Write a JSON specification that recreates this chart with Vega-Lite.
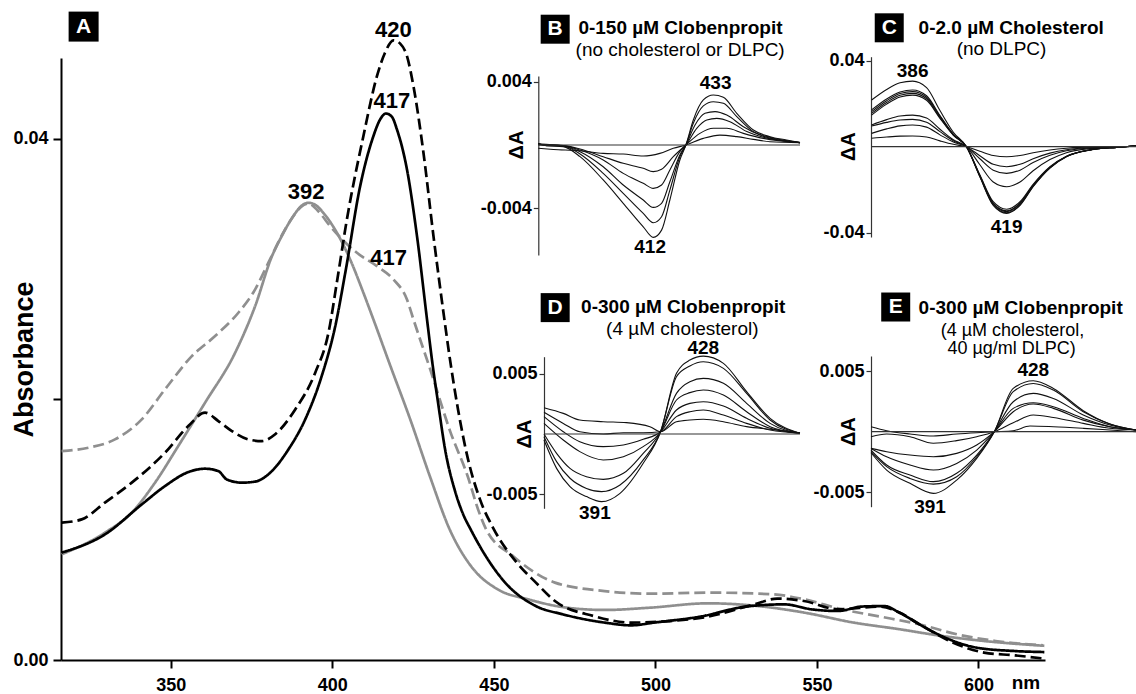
{
"$schema": "https://vega.github.io/schema/vega-lite/v6.json",
"width": 984, "height": 602,
"autosize": {"type": "none"},
"padding": {"left": 61, "top": 58, "right": 91, "bottom": 34},
"background": "white",
"config": {"view": {"stroke": null}, "font": "Liberation Sans",
  "axis": {"grid": false, "labelFont": "Liberation Sans", "labelFontWeight": "bold", "labelColor": "#000", "titleColor": "#000", "titleFont": "Liberation Sans", "labelFlush": false, "labelOverlap": false}},
"datasets": {
"main": [
{"s":"gd","nm":316.2,"v":0.01603},{"s":"gd","nm":324.5,"v":0.01629},{"s":"gd","nm":332.7,"v":0.01693},{"s":"gd","nm":341.0,"v":0.01847},{"s":"gd","nm":348.2,"v":0.02077},{"s":"gd","nm":356.5,"v":0.02332},{"s":"gd","nm":363.7,"v":0.02486},{"s":"gd","nm":370.9,"v":0.02665},{"s":"gd","nm":376.1,"v":0.02844},{"s":"gd","nm":380.2,"v":0.03049},{"s":"gd","nm":384.8,"v":0.03279},{"s":"gd","nm":387.9,"v":0.03406},{"s":"gd","nm":390.2,"v":0.03475},{"s":"gd","nm":392.6,"v":0.03504},{"s":"gd","nm":395.8,"v":0.0344},{"s":"gd","nm":399.3,"v":0.0333},{"s":"gd","nm":407.6,"v":0.03125},{"s":"gd","nm":413.8,"v":0.03023},{"s":"gd","nm":418.9,"v":0.02921},{"s":"gd","nm":423.1,"v":0.02767},{"s":"gd","nm":425.1,"v":0.02614},{"s":"gd","nm":430.3,"v":0.0223},{"s":"gd","nm":436.5,"v":0.01753},{"s":"gd","nm":442.0,"v":0.01402},{"s":"gd","nm":445.1,"v":0.01156},{"s":"gd","nm":447.6,"v":0.01003},{"s":"gd","nm":455.9,"v":0.00798},{"s":"gd","nm":468.9,"v":0.00594},{"s":"gd","nm":484.3,"v":0.00529},{"s":"gd","nm":498.6,"v":0.00509},{"s":"gd","nm":516.3,"v":0.00517},{"s":"gd","nm":536.5,"v":0.00504},{"s":"gd","nm":546.0,"v":0.00466},{"s":"gd","nm":557.8,"v":0.00389},{"s":"gd","nm":569.6,"v":0.00333},{"s":"gd","nm":581.6,"v":0.00274},{"s":"gd","nm":593.4,"v":0.00197},{"s":"gd","nm":605.3,"v":0.00146},{"s":"gd","nm":620.0,"v":0.00113},
{"s":"gs","nm":316.2,"v":0.00811},{"s":"gs","nm":329.6,"v":0.00977},{"s":"gs","nm":337.9,"v":0.01131},{"s":"gs","nm":345.1,"v":0.01361},{"s":"gs","nm":352.3,"v":0.01642},{"s":"gs","nm":360.6,"v":0.01975},{"s":"gs","nm":369.9,"v":0.02358},{"s":"gs","nm":376.1,"v":0.02716},{"s":"gs","nm":381.3,"v":0.03099},{"s":"gs","nm":383.8,"v":0.03228},{"s":"gs","nm":387.9,"v":0.03406},{"s":"gs","nm":390.2,"v":0.0348},{"s":"gs","nm":392.6,"v":0.03509},{"s":"gs","nm":394.9,"v":0.0349},{"s":"gs","nm":397.2,"v":0.03432},{"s":"gs","nm":401.4,"v":0.03279},{"s":"gs","nm":405.5,"v":0.03074},{"s":"gs","nm":409.6,"v":0.02819},{"s":"gs","nm":412.7,"v":0.02614},{"s":"gs","nm":417.9,"v":0.02261},{"s":"gs","nm":424.1,"v":0.01847},{"s":"gs","nm":430.3,"v":0.01402},{"s":"gs","nm":436.3,"v":0.01003},{"s":"gs","nm":442.9,"v":0.00721},{"s":"gs","nm":451.2,"v":0.00542},{"s":"gs","nm":460.6,"v":0.00466},{"s":"gs","nm":472.5,"v":0.00402},{"s":"gs","nm":484.4,"v":0.00384},{"s":"gs","nm":498.6,"v":0.00402},{"s":"gs","nm":516.3,"v":0.00435},{"s":"gs","nm":531.8,"v":0.00414},{"s":"gs","nm":546.0,"v":0.00364},{"s":"gs","nm":561.4,"v":0.00287},{"s":"gs","nm":575.6,"v":0.00236},{"s":"gs","nm":587.5,"v":0.00189},{"s":"gs","nm":601.7,"v":0.00146},{"s":"gs","nm":620.4,"v":0.00109},
{"s":"bd","nm":316.2,"v":0.01054},{"s":"bd","nm":322.4,"v":0.01079},{"s":"bd","nm":329.6,"v":0.01208},{"s":"bd","nm":337.9,"v":0.01361},{"s":"bd","nm":348.2,"v":0.01591},{"s":"bd","nm":355.4,"v":0.01795},{"s":"bd","nm":360.6,"v":0.01898},{"s":"bd","nm":364.7,"v":0.01834},{"s":"bd","nm":368.9,"v":0.01757},{"s":"bd","nm":374.0,"v":0.01693},{"s":"bd","nm":378.2,"v":0.0168},{"s":"bd","nm":382.3,"v":0.01732},{"s":"bd","nm":388.5,"v":0.01923},{"s":"bd","nm":394.7,"v":0.02205},{"s":"bd","nm":398.8,"v":0.02512},{"s":"bd","nm":401.6,"v":0.0293},{"s":"bd","nm":404.5,"v":0.03381},{"s":"bd","nm":409.6,"v":0.0402},{"s":"bd","nm":413.8,"v":0.0448},{"s":"bd","nm":416.3,"v":0.0466},{"s":"bd","nm":418.9,"v":0.04756},{"s":"bd","nm":421.0,"v":0.0473},{"s":"bd","nm":423.1,"v":0.04634},{"s":"bd","nm":425.1,"v":0.04404},{"s":"bd","nm":428.2,"v":0.03893},{"s":"bd","nm":431.3,"v":0.03253},{"s":"bd","nm":434.4,"v":0.02665},{"s":"bd","nm":436.5,"v":0.02292},{"s":"bd","nm":438.9,"v":0.01923},{"s":"bd","nm":442.0,"v":0.0154},{"s":"bd","nm":445.7,"v":0.01233},{"s":"bd","nm":450.0,"v":0.01003},{"s":"bd","nm":457.1,"v":0.00747},{"s":"bd","nm":463.0,"v":0.00594},{"s":"bd","nm":468.9,"v":0.00453},{"s":"bd","nm":480.8,"v":0.00338},{"s":"bd","nm":492.7,"v":0.00287},{"s":"bd","nm":504.5,"v":0.00299},{"s":"bd","nm":516.3,"v":0.00333},{"s":"bd","nm":530.6,"v":0.00427},{"s":"bd","nm":537.7,"v":0.00471},{"s":"bd","nm":546.0,"v":0.00453},{"s":"bd","nm":556.6,"v":0.00389},{"s":"bd","nm":569.6,"v":0.0041},{"s":"bd","nm":575.5,"v":0.00364},{"s":"bd","nm":582.6,"v":0.00261},{"s":"bd","nm":592.2,"v":0.00133},{"s":"bd","nm":601.7,"v":0.00057},{"s":"bd","nm":611.1,"v":0.00036},{"s":"bd","nm":619.5,"v":0.00013},
{"s":"bs","nm":316.2,"v":0.00824},{"s":"bs","nm":329.6,"v":0.00964},{"s":"bs","nm":341.0,"v":0.01194},{"s":"bs","nm":348.2,"v":0.01335},{"s":"bs","nm":355.4,"v":0.01442},{"s":"bs","nm":360.6,"v":0.01468},{"s":"bs","nm":364.7,"v":0.0145},{"s":"bs","nm":367.3,"v":0.01386},{"s":"bs","nm":372.0,"v":0.01361},{"s":"bs","nm":376.1,"v":0.01369},{"s":"bs","nm":380.2,"v":0.01425},{"s":"bs","nm":386.4,"v":0.01616},{"s":"bs","nm":391.6,"v":0.01847},{"s":"bs","nm":396.7,"v":0.02179},{"s":"bs","nm":400.9,"v":0.02562},{"s":"bs","nm":404.2,"v":0.03},{"s":"bs","nm":408.6,"v":0.03636},{"s":"bs","nm":412.7,"v":0.0402},{"s":"bs","nm":414.6,"v":0.0414},{"s":"bs","nm":416.6,"v":0.04194},{"s":"bs","nm":418.4,"v":0.0417},{"s":"bs","nm":420.0,"v":0.04071},{"s":"bs","nm":423.1,"v":0.03764},{"s":"bs","nm":426.2,"v":0.03253},{"s":"bs","nm":429.3,"v":0.02614},{"s":"bs","nm":430.9,"v":0.02291},{"s":"bs","nm":432.8,"v":0.01961},{"s":"bs","nm":434.9,"v":0.01616},{"s":"bs","nm":438.0,"v":0.01294},{"s":"bs","nm":440.5,"v":0.01118},{"s":"bs","nm":442.8,"v":0.01003},{"s":"bs","nm":448.8,"v":0.00747},{"s":"bs","nm":453.5,"v":0.00594},{"s":"bs","nm":463.0,"v":0.00414},{"s":"bs","nm":471.3,"v":0.00351},{"s":"bs","nm":484.3,"v":0.00287},{"s":"bs","nm":492.5,"v":0.00266},{"s":"bs","nm":499.6,"v":0.00287},{"s":"bs","nm":513.9,"v":0.00333},{"s":"bs","nm":528.1,"v":0.0041},{"s":"bs","nm":539.9,"v":0.00427},{"s":"bs","nm":548.3,"v":0.00389},{"s":"bs","nm":556.6,"v":0.00376},{"s":"bs","nm":563.8,"v":0.0041},{"s":"bs","nm":570.9,"v":0.00414},{"s":"bs","nm":575.5,"v":0.00364},{"s":"bs","nm":582.6,"v":0.00261},{"s":"bs","nm":591.0,"v":0.00158},{"s":"bs","nm":599.4,"v":0.00095},{"s":"bs","nm":611.1,"v":0.00069},{"s":"bs","nm":620.4,"v":0.00061}
],
"mainlab": [
{"k":"box","t":"A","nm":323.0,"v":0.04861},
{"k":"peak","t":"420","nm":418.9,"v":0.04838},
{"k":"peak","t":"417","nm":418.4,"v":0.04289},
{"k":"peak","t":"392","nm":391.9,"v":0.0359},
{"k":"peak","t":"417","nm":417.4,"v":0.03087},
{"k":"unit","t":"nm","nm":614.7,"v":-0.00179}
],
"B": [
{"c":"6","nm":371.9,"v":0.0001},{"c":"6","nm":374.8,"v":-0.00004},{"c":"6","nm":380.6,"v":-0.0001},{"c":"6","nm":386.5,"v":-0.00074},{"c":"6","nm":394.6,"v":-0.00222},{"c":"6","nm":401.6,"v":-0.0037},{"c":"6","nm":408.6,"v":-0.00519},{"c":"6","nm":412.1,"v":-0.00586},{"c":"6","nm":415.0,"v":-0.0054},{"c":"6","nm":417.9,"v":-0.00349},{"c":"6","nm":421.4,"v":-0.00095},{"c":"6","nm":423.5,"v":0},{"c":"6","nm":426.1,"v":0.00159},{"c":"6","nm":429.6,"v":0.00286},{"c":"6","nm":433.1,"v":0.00317},{"c":"6","nm":436.6,"v":0.00303},{"c":"6","nm":441.3,"v":0.00201},{"c":"6","nm":447.1,"v":0.00095},{"c":"6","nm":452.9,"v":0.00053},{"c":"6","nm":458.7,"v":0.00032},{"c":"6","nm":463.4,"v":0.00015},
{"c":"5","nm":371.9,"v":0.0001},{"c":"5","nm":374.8,"v":-0.00004},{"c":"5","nm":380.6,"v":-0.00006},{"c":"5","nm":386.5,"v":-0.00057},{"c":"5","nm":394.6,"v":-0.0018},{"c":"5","nm":401.6,"v":-0.00307},{"c":"5","nm":408.6,"v":-0.00434},{"c":"5","nm":412.1,"v":-0.00493},{"c":"5","nm":415.0,"v":-0.00455},{"c":"5","nm":417.9,"v":-0.00286},{"c":"5","nm":421.4,"v":-0.00074},{"c":"5","nm":423.5,"v":0},{"c":"5","nm":426.1,"v":0.00138},{"c":"5","nm":429.6,"v":0.00248},{"c":"5","nm":433.1,"v":0.00275},{"c":"5","nm":436.6,"v":0.00265},{"c":"5","nm":441.3,"v":0.0018},{"c":"5","nm":447.1,"v":0.00085},{"c":"5","nm":452.9,"v":0.00049},{"c":"5","nm":463.4,"v":0.00015},
{"c":"4","nm":371.9,"v":0.00006},{"c":"4","nm":380.6,"v":-0.00006},{"c":"4","nm":386.5,"v":-0.00042},{"c":"4","nm":394.6,"v":-0.00138},{"c":"4","nm":401.6,"v":-0.00254},{"c":"4","nm":408.6,"v":-0.00349},{"c":"4","nm":412.1,"v":-0.00396},{"c":"4","nm":415.0,"v":-0.0037},{"c":"4","nm":417.9,"v":-0.00233},{"c":"4","nm":421.4,"v":-0.00063},{"c":"4","nm":423.5,"v":0},{"c":"4","nm":426.7,"v":0.00127},{"c":"4","nm":430.2,"v":0.00201},{"c":"4","nm":433.7,"v":0.00212},{"c":"4","nm":437.8,"v":0.0019},{"c":"4","nm":443.6,"v":0.00116},{"c":"4","nm":449.4,"v":0.00063},{"c":"4","nm":463.4,"v":0.00015},
{"c":"3","nm":371.9,"v":0.00004},{"c":"3","nm":380.6,"v":-0.00004},{"c":"3","nm":386.5,"v":-0.00032},{"c":"3","nm":394.6,"v":-0.00095},{"c":"3","nm":401.6,"v":-0.0018},{"c":"3","nm":408.6,"v":-0.00243},{"c":"3","nm":412.1,"v":-0.00275},{"c":"3","nm":415.0,"v":-0.00254},{"c":"3","nm":417.9,"v":-0.00159},{"c":"3","nm":421.4,"v":-0.00042},{"c":"3","nm":423.5,"v":0},{"c":"3","nm":427.3,"v":0.00106},{"c":"3","nm":430.8,"v":0.00159},{"c":"3","nm":434.3,"v":0.00169},{"c":"3","nm":438.9,"v":0.00148},{"c":"3","nm":444.8,"v":0.00085},{"c":"3","nm":450.6,"v":0.00049},{"c":"3","nm":463.4,"v":0.00015},
{"c":"2","nm":371.9,"v":0},{"c":"2","nm":380.6,"v":-0.00004},{"c":"2","nm":386.5,"v":-0.00025},{"c":"2","nm":394.6,"v":-0.00074},{"c":"2","nm":401.6,"v":-0.00116},{"c":"2","nm":408.6,"v":-0.00148},{"c":"2","nm":412.1,"v":-0.00169},{"c":"2","nm":415.0,"v":-0.00154},{"c":"2","nm":419.1,"v":-0.00074},{"c":"2","nm":423.5,"v":0},{"c":"2","nm":428.4,"v":0.00074},{"c":"2","nm":433.1,"v":0.00106},{"c":"2","nm":437.8,"v":0.00106},{"c":"2","nm":443.6,"v":0.00074},{"c":"2","nm":450.6,"v":0.00042},{"c":"2","nm":463.4,"v":0.00015},
{"c":"1","nm":371.9,"v":-0.00021},{"c":"1","nm":377.2,"v":-0.00028},{"c":"1","nm":386.5,"v":-0.00036},{"c":"1","nm":394.6,"v":-0.00053},{"c":"1","nm":401.6,"v":-0.00057},{"c":"1","nm":408.6,"v":-0.0007},{"c":"1","nm":414.4,"v":-0.00053},{"c":"1","nm":419.1,"v":-0.00021},{"c":"1","nm":423.5,"v":0},{"c":"1","nm":429.6,"v":0.00042},{"c":"1","nm":435.4,"v":0.00063},{"c":"1","nm":441.3,"v":0.00053},{"c":"1","nm":447.1,"v":0.00036},{"c":"1","nm":452.9,"v":0.00021},{"c":"1","nm":463.4,"v":0.00015}
],
"Blab": [
{"k":"box","t":"B","nm":377.8,"v":0.00735},
{"k":"b","t":"0-150 µM Clobenpropit","nm":421.6,"v":0.00741},
{"k":"n","t":"(no cholesterol or DLPC)","nm":421.5,"v":0.00603},
{"k":"b","t":"433","nm":433.9,"v":0.00392},
{"k":"b","t":"412","nm":411.0,"v":-0.00646},
{"k":"d","t":"ΔA","nm":364.3,"v":0}
],
"C": [
{"c":"9","nm":371.6,"v":0.0217},{"c":"9","nm":376.9,"v":0.0266},{"c":"9","nm":381.6,"v":0.0297},{"c":"9","nm":386.0,"v":0.0305},{"c":"9","nm":390.9,"v":0.0275},{"c":"9","nm":395.6,"v":0.0168},{"c":"9","nm":400.3,"v":0.0067},{"c":"9","nm":404.9,"v":0},{"c":"9","nm":409.6,"v":-0.014},{"c":"9","nm":414.3,"v":-0.0273},{"c":"9","nm":419.0,"v":-0.031},{"c":"9","nm":423.7,"v":-0.0273},{"c":"9","nm":428.3,"v":-0.0186},{"c":"9","nm":434.2,"v":-0.0099},{"c":"9","nm":440.0,"v":-0.0047},{"c":"9","nm":448.2,"v":-0.0016},{"c":"9","nm":457.6,"v":-0.0003},{"c":"9","nm":464.4,"v":0.0003},
{"c":"8","nm":371.6,"v":0.0171},{"c":"8","nm":376.9,"v":0.0222},{"c":"8","nm":381.6,"v":0.0254},{"c":"8","nm":386.0,"v":0.0264},{"c":"8","nm":390.9,"v":0.0237},{"c":"8","nm":395.6,"v":0.0145},{"c":"8","nm":400.3,"v":0.0058},{"c":"8","nm":404.9,"v":0},{"c":"8","nm":409.6,"v":-0.0138},{"c":"8","nm":414.3,"v":-0.027},{"c":"8","nm":419.0,"v":-0.0307},{"c":"8","nm":423.7,"v":-0.027},{"c":"8","nm":428.3,"v":-0.0184},{"c":"8","nm":434.2,"v":-0.0098},{"c":"8","nm":440.0,"v":-0.0046},{"c":"8","nm":448.2,"v":-0.0015},{"c":"8","nm":457.6,"v":-0.0003},{"c":"8","nm":464.4,"v":0.0003},
{"c":"7","nm":371.6,"v":0.0163},{"c":"7","nm":376.9,"v":0.0214},{"c":"7","nm":381.6,"v":0.0247},{"c":"7","nm":386.0,"v":0.0256},{"c":"7","nm":390.9,"v":0.023},{"c":"7","nm":395.6,"v":0.0141},{"c":"7","nm":400.3,"v":0.0056},{"c":"7","nm":404.9,"v":0},{"c":"7","nm":409.6,"v":-0.0136},{"c":"7","nm":414.3,"v":-0.0265},{"c":"7","nm":419.0,"v":-0.0302},{"c":"7","nm":423.7,"v":-0.0265},{"c":"7","nm":428.3,"v":-0.0181},{"c":"7","nm":434.2,"v":-0.0097},{"c":"7","nm":440.0,"v":-0.0045},{"c":"7","nm":448.2,"v":-0.0015},{"c":"7","nm":457.6,"v":-0.0003},{"c":"7","nm":464.4,"v":0.0003},
{"c":"6","nm":371.6,"v":0.0155},{"c":"6","nm":376.9,"v":0.0206},{"c":"6","nm":381.6,"v":0.0239},{"c":"6","nm":386.0,"v":0.0248},{"c":"6","nm":390.9,"v":0.0223},{"c":"6","nm":395.6,"v":0.0136},{"c":"6","nm":400.3,"v":0.0055},{"c":"6","nm":404.9,"v":0},{"c":"6","nm":409.6,"v":-0.0134},{"c":"6","nm":414.3,"v":-0.0262},{"c":"6","nm":419.0,"v":-0.0298},{"c":"6","nm":423.7,"v":-0.0262},{"c":"6","nm":428.3,"v":-0.0179},{"c":"6","nm":434.2,"v":-0.0095},{"c":"6","nm":440.0,"v":-0.0045},{"c":"6","nm":448.2,"v":-0.0015},{"c":"6","nm":457.6,"v":-0.0003},{"c":"6","nm":464.4,"v":0.0003},
{"c":"5","nm":371.6,"v":0.0147},{"c":"5","nm":376.9,"v":0.0198},{"c":"5","nm":381.6,"v":0.0231},{"c":"5","nm":386.0,"v":0.024},{"c":"5","nm":390.9,"v":0.0216},{"c":"5","nm":395.6,"v":0.0132},{"c":"5","nm":400.3,"v":0.0053},{"c":"5","nm":404.9,"v":0},{"c":"5","nm":409.6,"v":-0.0131},{"c":"5","nm":414.3,"v":-0.0256},{"c":"5","nm":419.0,"v":-0.0291},{"c":"5","nm":423.7,"v":-0.0256},{"c":"5","nm":428.3,"v":-0.0175},{"c":"5","nm":434.2,"v":-0.0093},{"c":"5","nm":440.0,"v":-0.0044},{"c":"5","nm":448.2,"v":-0.0015},{"c":"5","nm":457.6,"v":-0.0003},{"c":"5","nm":464.4,"v":0.0003},
{"c":"4","nm":371.6,"v":0.0101},{"c":"4","nm":376.9,"v":0.0126},{"c":"4","nm":381.6,"v":0.0143},{"c":"4","nm":386.0,"v":0.0147},{"c":"4","nm":390.9,"v":0.0133},{"c":"4","nm":395.6,"v":0.0081},{"c":"4","nm":400.3,"v":0.0032},{"c":"4","nm":404.9,"v":0},{"c":"4","nm":409.6,"v":-0.0084},{"c":"4","nm":414.3,"v":-0.0164},{"c":"4","nm":419.0,"v":-0.0186},{"c":"4","nm":423.7,"v":-0.0164},{"c":"4","nm":428.3,"v":-0.0112},{"c":"4","nm":434.2,"v":-0.006},{"c":"4","nm":440.0,"v":-0.0028},{"c":"4","nm":448.2,"v":-0.0009},{"c":"4","nm":457.6,"v":-0.0003},{"c":"4","nm":464.4,"v":0.0003},
{"c":"3","nm":371.6,"v":0.0096},{"c":"3","nm":376.9,"v":0.0113},{"c":"3","nm":381.6,"v":0.0124},{"c":"3","nm":386.0,"v":0.0127},{"c":"3","nm":390.9,"v":0.0114},{"c":"3","nm":395.6,"v":0.007},{"c":"3","nm":400.3,"v":0.0028},{"c":"3","nm":404.9,"v":0},{"c":"3","nm":409.6,"v":-0.0056},{"c":"3","nm":414.3,"v":-0.0109},{"c":"3","nm":419.0,"v":-0.0124},{"c":"3","nm":423.7,"v":-0.0109},{"c":"3","nm":428.3,"v":-0.0074},{"c":"3","nm":434.2,"v":-0.004},{"c":"3","nm":440.0,"v":-0.0019},{"c":"3","nm":448.2,"v":-0.0006},{"c":"3","nm":457.6,"v":-0.0003},{"c":"3","nm":464.4,"v":0.0003},
{"c":"2","nm":371.6,"v":0.0062},{"c":"2","nm":376.9,"v":0.0083},{"c":"2","nm":381.6,"v":0.0097},{"c":"2","nm":386.0,"v":0.0101},{"c":"2","nm":390.9,"v":0.0091},{"c":"2","nm":395.6,"v":0.0055},{"c":"2","nm":400.3,"v":0.0022},{"c":"2","nm":404.9,"v":0},{"c":"2","nm":409.6,"v":-0.0042},{"c":"2","nm":414.3,"v":-0.0082},{"c":"2","nm":419.0,"v":-0.0093},{"c":"2","nm":423.7,"v":-0.0082},{"c":"2","nm":428.3,"v":-0.0056},{"c":"2","nm":434.2,"v":-0.003},{"c":"2","nm":440.0,"v":-0.0014},{"c":"2","nm":448.2,"v":-0.0005},{"c":"2","nm":457.6,"v":-0.0003},{"c":"2","nm":464.4,"v":0.0003},
{"c":"1","nm":371.6,"v":0.0039},{"c":"1","nm":376.9,"v":0.0045},{"c":"1","nm":381.6,"v":0.0049},{"c":"1","nm":386.0,"v":0.005},{"c":"1","nm":390.9,"v":0.0045},{"c":"1","nm":395.6,"v":0.0027},{"c":"1","nm":400.3,"v":0.0011},{"c":"1","nm":404.9,"v":0},{"c":"1","nm":409.6,"v":-0.0021},{"c":"1","nm":414.3,"v":-0.0041},{"c":"1","nm":419.0,"v":-0.0047},{"c":"1","nm":423.7,"v":-0.0041},{"c":"1","nm":428.3,"v":-0.0028},{"c":"1","nm":434.2,"v":-0.0015},{"c":"1","nm":440.0,"v":-0.0007},{"c":"1","nm":448.2,"v":-0.0002},{"c":"1","nm":457.6,"v":-0.0002},{"c":"1","nm":464.4,"v":0.0003}
],
"Clab": [
{"k":"box","t":"C","nm":377.8,"v":0.0553},
{"k":"b","t":"0-2.0 µM Cholesterol","nm":420.6,"v":0.0551},
{"k":"n","t":"(no DLPC)","nm":417.2,"v":0.0453},
{"k":"b","t":"386","nm":386.0,"v":0.0353},
{"k":"b","t":"419","nm":419.0,"v":-0.0372},
{"k":"d","t":"ΔA","nm":363.8,"v":0}
],
"D": [
{"c":"a","nm":371.0,"v":0.00218},{"c":"a","nm":377.9,"v":0.00171},{"c":"a","nm":383.8,"v":0.00116},{"c":"a","nm":392.2,"v":0.00102},{"c":"a","nm":400.5,"v":0.00094},{"c":"a","nm":408.9,"v":0.00061},{"c":"a","nm":412.7,"v":0.00019},{"c":"a","nm":418.4,"v":0.00102},{"c":"a","nm":423.2,"v":0.00116},{"c":"a","nm":428.0,"v":0.00122},{"c":"a","nm":435.2,"v":0.00102},{"c":"a","nm":443.5,"v":0.00061},{"c":"a","nm":451.9,"v":0.00039},{"c":"a","nm":462.6,"v":0.00011},
{"c":"b","nm":371.0,"v":0.0018},{"c":"b","nm":377.9,"v":0.00088},{"c":"b","nm":383.8,"v":0.00019},{"c":"b","nm":392.2,"v":0},{"c":"b","nm":399.4,"v":0.00011},{"c":"b","nm":406.5,"v":0.00011},{"c":"b","nm":412.7,"v":0.00019},{"c":"b","nm":418.4,"v":0.00144},{"c":"b","nm":423.2,"v":0.00185},{"c":"b","nm":428.0,"v":0.00199},{"c":"b","nm":435.2,"v":0.00157},{"c":"b","nm":443.5,"v":0.00088},{"c":"b","nm":451.9,"v":0.00033},{"c":"b","nm":462.6,"v":0.00006},
{"c":"c","nm":371.0,"v":0.00144},{"c":"c","nm":377.9,"v":0.00019},{"c":"c","nm":383.8,"v":-0.00064},{"c":"c","nm":392.2,"v":-0.00105},{"c":"c","nm":399.4,"v":-0.00091},{"c":"c","nm":406.5,"v":-0.00044},{"c":"c","nm":412.7,"v":0.00019},{"c":"c","nm":418.4,"v":0.00199},{"c":"c","nm":423.2,"v":0.00254},{"c":"c","nm":428.0,"v":0.00268},{"c":"c","nm":435.2,"v":0.00232},{"c":"c","nm":443.5,"v":0.0013},{"c":"c","nm":451.9,"v":0.00047},{"c":"c","nm":462.6,"v":0.00006},
{"c":"d","nm":371.0,"v":0.00088},{"c":"d","nm":377.9,"v":-0.0005},{"c":"d","nm":383.8,"v":-0.00146},{"c":"d","nm":392.2,"v":-0.00215},{"c":"d","nm":399.4,"v":-0.00188},{"c":"d","nm":406.5,"v":-0.00105},{"c":"d","nm":412.7,"v":0.00019},{"c":"d","nm":418.4,"v":0.00282},{"c":"d","nm":423.2,"v":0.00343},{"c":"d","nm":428.0,"v":0.00365},{"c":"d","nm":435.2,"v":0.00323},{"c":"d","nm":443.5,"v":0.00185},{"c":"d","nm":451.9,"v":0.00061},{"c":"d","nm":462.6,"v":0.00006},
{"c":"e","nm":371.0,"v":0},{"c":"e","nm":375.5,"v":-0.0016},{"c":"e","nm":380.3,"v":-0.00285},{"c":"e","nm":386.2,"v":-0.00354},{"c":"e","nm":392.2,"v":-0.00376},{"c":"e","nm":399.4,"v":-0.00326},{"c":"e","nm":406.5,"v":-0.0016},{"c":"e","nm":412.7,"v":0.00019},{"c":"e","nm":418.4,"v":0.00337},{"c":"e","nm":423.2,"v":0.00434},{"c":"e","nm":428.0,"v":0.00461},{"c":"e","nm":435.2,"v":0.0042},{"c":"e","nm":443.5,"v":0.00254},{"c":"e","nm":451.9,"v":0.00088},{"c":"e","nm":462.6,"v":0.00006},
{"c":"f","nm":371.0,"v":-0.00022},{"c":"f","nm":375.5,"v":-0.00229},{"c":"f","nm":380.3,"v":-0.00367},{"c":"f","nm":386.2,"v":-0.00451},{"c":"f","nm":391.6,"v":-0.00478},{"c":"f","nm":398.2,"v":-0.00423},{"c":"f","nm":406.5,"v":-0.00215},{"c":"f","nm":412.7,"v":0.00019},{"c":"f","nm":418.4,"v":0.00475},{"c":"f","nm":423.2,"v":0.00564},{"c":"f","nm":428.0,"v":0.00599},{"c":"f","nm":435.2,"v":0.00544},{"c":"f","nm":443.5,"v":0.00337},{"c":"f","nm":451.9,"v":0.00116},{"c":"f","nm":462.6,"v":0.00006},
{"c":"g","nm":371.0,"v":-0.0005},{"c":"g","nm":375.5,"v":-0.00285},{"c":"g","nm":380.3,"v":-0.00436},{"c":"g","nm":386.2,"v":-0.00519},{"c":"g","nm":391.6,"v":-0.00561},{"c":"g","nm":398.2,"v":-0.00492},{"c":"g","nm":406.5,"v":-0.00243},{"c":"g","nm":412.7,"v":0.00019},{"c":"g","nm":418.4,"v":0.00503},{"c":"g","nm":423.2,"v":0.00613},{"c":"g","nm":428.0,"v":0.00646},{"c":"g","nm":435.2,"v":0.00586},{"c":"g","nm":443.5,"v":0.00351},{"c":"g","nm":451.9,"v":0.0013},{"c":"g","nm":462.6,"v":0.00006}
],
"Dlab": [
{"k":"box","t":"D","nm":375.0,"v":0.01048},
{"k":"b","t":"0-300 µM Clobenpropit","nm":420.8,"v":0.0105},
{"k":"n","t":"(4 µM cholesterol)","nm":420.5,"v":0.00868},
{"k":"b","t":"428","nm":428.0,"v":0.0071},
{"k":"b","t":"391","nm":389.2,"v":-0.00657},
{"k":"d","t":"ΔA","nm":364.1,"v":0}
],
"E": [
{"c":"a","nm":368.9,"v":0.00041},{"c":"a","nm":374.6,"v":0.00008},{"c":"a","nm":383.1,"v":-0.00019},{"c":"a","nm":391.6,"v":-0.00036},{"c":"a","nm":400.1,"v":-0.00019},{"c":"a","nm":407.4,"v":-0.00008},{"c":"a","nm":413.8,"v":0},{"c":"a","nm":420.7,"v":0.00008},{"c":"a","nm":426.8,"v":0.00047},{"c":"a","nm":435.3,"v":0.00041},{"c":"a","nm":446.2,"v":0.00028},{"c":"a","nm":455.9,"v":0.00014},{"c":"a","nm":465.4,"v":0},
{"c":"b","nm":368.9,"v":-0.00041},{"c":"b","nm":374.6,"v":-0.00019},{"c":"b","nm":383.1,"v":-0.00041},{"c":"b","nm":391.6,"v":-0.00096},{"c":"b","nm":400.1,"v":-0.00074},{"c":"b","nm":407.4,"v":-0.00041},{"c":"b","nm":413.8,"v":0},{"c":"b","nm":420.7,"v":0.00074},{"c":"b","nm":428.0,"v":0.00138},{"c":"b","nm":435.3,"v":0.00118},{"c":"b","nm":446.2,"v":0.00069},{"c":"b","nm":455.9,"v":0.00028},{"c":"b","nm":465.4,"v":0.00014},
{"c":"c","nm":368.9,"v":-0.00138},{"c":"c","nm":374.6,"v":-0.00165},{"c":"c","nm":383.1,"v":-0.00193},{"c":"c","nm":391.6,"v":-0.00207},{"c":"c","nm":400.1,"v":-0.00179},{"c":"c","nm":407.4,"v":-0.0011},{"c":"c","nm":413.8,"v":0},{"c":"c","nm":420.7,"v":0.00165},{"c":"c","nm":428.0,"v":0.00229},{"c":"c","nm":435.3,"v":0.00193},{"c":"c","nm":446.2,"v":0.00096},{"c":"c","nm":455.9,"v":0.00041},{"c":"c","nm":465.4,"v":0.00014},
{"c":"d","nm":368.9,"v":-0.00138},{"c":"d","nm":374.6,"v":-0.00207},{"c":"d","nm":383.1,"v":-0.00275},{"c":"d","nm":391.6,"v":-0.00317},{"c":"d","nm":400.1,"v":-0.00262},{"c":"d","nm":407.4,"v":-0.00152},{"c":"d","nm":413.8,"v":0},{"c":"d","nm":420.7,"v":0.00193},{"c":"d","nm":428.0,"v":0.0024},{"c":"d","nm":435.3,"v":0.00207},{"c":"d","nm":446.2,"v":0.0011},{"c":"d","nm":455.9,"v":0.00041},{"c":"d","nm":465.4,"v":0.00014},
{"c":"e","nm":368.9,"v":-0.00152},{"c":"e","nm":374.6,"v":-0.00275},{"c":"e","nm":383.1,"v":-0.00358},{"c":"e","nm":391.6,"v":-0.00413},{"c":"e","nm":400.1,"v":-0.00344},{"c":"e","nm":407.4,"v":-0.00193},{"c":"e","nm":413.8,"v":0},{"c":"e","nm":420.7,"v":0.00248},{"c":"e","nm":428.0,"v":0.00317},{"c":"e","nm":435.3,"v":0.00275},{"c":"e","nm":446.2,"v":0.00138},{"c":"e","nm":455.9,"v":0.00055},{"c":"e","nm":465.4,"v":0.00014},
{"c":"f","nm":368.9,"v":-0.00165},{"c":"f","nm":374.6,"v":-0.00289},{"c":"f","nm":383.1,"v":-0.00386},{"c":"f","nm":391.6,"v":-0.00433},{"c":"f","nm":400.1,"v":-0.00372},{"c":"f","nm":407.4,"v":-0.00207},{"c":"f","nm":413.8,"v":0},{"c":"f","nm":420.7,"v":0.00331},{"c":"f","nm":428.0,"v":0.00399},{"c":"f","nm":435.3,"v":0.00344},{"c":"f","nm":446.2,"v":0.00165},{"c":"f","nm":455.9,"v":0.00063},{"c":"f","nm":465.4,"v":0.00014},
{"c":"g","nm":368.9,"v":-0.00174},{"c":"g","nm":374.6,"v":-0.00317},{"c":"g","nm":383.1,"v":-0.00427},{"c":"g","nm":391.6,"v":-0.0051},{"c":"g","nm":400.1,"v":-0.004},{"c":"g","nm":407.4,"v":-0.0022},{"c":"g","nm":413.8,"v":0},{"c":"g","nm":420.7,"v":0.00358},{"c":"g","nm":428.0,"v":0.00421},{"c":"g","nm":435.3,"v":0.00358},{"c":"g","nm":446.2,"v":0.00174},{"c":"g","nm":455.9,"v":0.00063},{"c":"g","nm":465.4,"v":0.00014}
],
"Elab": [
{"k":"box","t":"E","nm":377.9,"v":0.01031},
{"k":"b","t":"0-300 µM Clobenpropit","nm":423.4,"v":0.0102},
{"k":"n","t":"(4 µM cholesterol,","nm":420.4,"v":0.00836},
{"k":"n","t":"40 µg/ml DLPC)","nm":420.1,"v":0.00688},
{"k":"b","t":"428","nm":428.0,"v":0.0051},
{"k":"b","t":"391","nm":390.4,"v":-0.0062},
{"k":"d","t":"ΔA","nm":361.0,"v":0}
]
},
"resolve": {"scale": {"x": "independent", "y": "independent"}, "axis": {"x": "independent", "y": "independent"}},
"layer": [
{
 "layer": [
  {"data": {"name": "main"},
   "mark": {"type": "line", "strokeWidth": 2.7, "interpolate": "monotone", "clip": false},
   "encoding": {
    "x": {"field": "nm", "type": "quantitative", "scale": {"domain": [316, 620.6], "nice": false, "zero": false},
      "axis": {"orient": "bottom", "values": [350,400,450,500,550,600], "title": null, "domainColor": "#000", "domainWidth": 2, "tickColor": "#000", "tickWidth": 2, "tickSize": 8, "labelFontSize": 18, "labelPadding": 8}},
    "y": {"field": "v", "type": "quantitative", "scale": {"domain": [0, 0.0462], "nice": false, "zero": false},
      "axis": {"orient": "left", "values": [0, 0.02, 0.04], "labelExpr": "datum.value == 0.02 ? '' : format(datum.value, '.2f')", "title": "Absorbance", "titleFontSize": 27, "titleFontWeight": "bold", "titleX": -37, "titleBaseline": "middle", "domainColor": "#000", "domainWidth": 2, "tickColor": "#000", "tickWidth": 2, "tickSize": 8, "labelFontSize": 18, "labelPadding": 5}},
    "color": {"field": "s", "type": "nominal", "scale": {"domain": ["gd","gs","bd","bs"], "range": ["#8f8f8f","#8f8f8f","#000000","#000000"]}, "legend": null},
    "strokeDash": {"field": "s", "type": "nominal", "scale": {"domain": ["gd","gs","bd","bs"], "range": [[11,5],[1,0],[11,5],[1,0]]}, "legend": null}
   }},
  {"data": {"name": "mainlab"}, "transform": [{"filter": "datum.k == 'peak'"}],
   "mark": {"type": "text", "fontSize": 22, "fontWeight": "bold", "align": "center", "baseline": "middle", "color": "#000", "clip": false},
   "encoding": {"x": {"field": "nm", "type": "quantitative"}, "y": {"field": "v", "type": "quantitative"}, "text": {"field": "t"}}},
  {"data": {"name": "mainlab"}, "transform": [{"filter": "datum.k == 'unit'"}],
   "mark": {"type": "text", "fontSize": 19, "fontWeight": "bold", "align": "center", "baseline": "middle", "color": "#000", "clip": false},
   "encoding": {"x": {"field": "nm", "type": "quantitative"}, "y": {"field": "v", "type": "quantitative"}, "text": {"field": "t"}}},
  {"data": {"name": "mainlab"}, "transform": [{"filter": "datum.k == 'box'"}],
   "mark": {"type": "point", "shape": "square", "filled": true, "color": "#000", "opacity": 1, "size": 900, "clip": false},
   "encoding": {"x": {"field": "nm", "type": "quantitative"}, "y": {"field": "v", "type": "quantitative"}}},
  {"data": {"name": "mainlab"}, "transform": [{"filter": "datum.k == 'box'"}],
   "mark": {"type": "text", "fontSize": 21, "fontWeight": "bold", "align": "center", "baseline": "middle", "color": "#fff", "clip": false},
   "encoding": {"x": {"field": "nm", "type": "quantitative"}, "y": {"field": "v", "type": "quantitative"}, "text": {"field": "t"}}}
 ]
},
{
 "layer": [
  {"data": {"name": "B"}, "mark": {"type": "line", "color": "#111", "strokeWidth": 1.1, "interpolate": "monotone", "clip": false},
   "encoding": {
    "x": {"field": "nm", "type": "quantitative", "scale": {"domain": [371.9, 463.4], "range": [477.3, 739], "nice": false, "zero": false}, "axis": null},
    "y": {"field": "v", "type": "quantitative", "scale": {"domain": [-0.00698, 0.00438], "range": [197, 18], "nice": false, "zero": false},
      "axis": {"orient": "left", "offset": -477.3, "values": [0.004, -0.004], "labelExpr": "datum.value < 0 ? '-' + format(-datum.value, '.3f') : format(datum.value, '.3f')", "title": null, "domainColor": "#333", "domainWidth": 1.2, "tickColor": "#333", "tickWidth": 1.2, "tickSize": 5, "labelFontSize": 18, "labelPadding": 2}},
    "detail": {"field": "c", "type": "nominal"}}},
  {"data": {"values": [{}]}, "mark": {"type": "rule", "color": "#333", "strokeWidth": 1.2},
   "encoding": {"x": {"datum": 371.9}, "x2": {"datum": 463.4}, "y": {"datum": 0}}},
  {"data": {"name": "Blab"}, "transform": [{"filter": "datum.k == 'b'"}],
   "mark": {"type": "text", "fontSize": 19, "fontWeight": "bold", "align": "center", "baseline": "middle", "color": "#000", "clip": false},
   "encoding": {"x": {"field": "nm", "type": "quantitative"}, "y": {"field": "v", "type": "quantitative"}, "text": {"field": "t"}}},
  {"data": {"name": "Blab"}, "transform": [{"filter": "datum.k == 'n'"}],
   "mark": {"type": "text", "fontSize": 19, "fontWeight": "normal", "align": "center", "baseline": "middle", "color": "#000", "clip": false},
   "encoding": {"x": {"field": "nm", "type": "quantitative"}, "y": {"field": "v", "type": "quantitative"}, "text": {"field": "t"}}},
  {"data": {"name": "Blab"}, "transform": [{"filter": "datum.k == 'd'"}],
   "mark": {"type": "text", "fontSize": 20, "fontWeight": "bold", "align": "center", "baseline": "middle", "angle": 270, "color": "#000", "clip": false},
   "encoding": {"x": {"field": "nm", "type": "quantitative"}, "y": {"field": "v", "type": "quantitative"}, "text": {"field": "t"}}},
  {"data": {"name": "Blab"}, "transform": [{"filter": "datum.k == 'box'"}],
   "mark": {"type": "point", "shape": "square", "filled": true, "color": "#000", "opacity": 1, "size": 841, "clip": false},
   "encoding": {"x": {"field": "nm", "type": "quantitative"}, "y": {"field": "v", "type": "quantitative"}}},
  {"data": {"name": "Blab"}, "transform": [{"filter": "datum.k == 'box'"}],
   "mark": {"type": "text", "fontSize": 21, "fontWeight": "bold", "align": "center", "baseline": "middle", "color": "#fff", "clip": false},
   "encoding": {"x": {"field": "nm", "type": "quantitative"}, "y": {"field": "v", "type": "quantitative"}, "text": {"field": "t"}}}
 ]
},
{
 "layer": [
  {"data": {"name": "C"}, "mark": {"type": "line", "color": "#111", "strokeWidth": 1.1, "interpolate": "monotone", "clip": false},
   "encoding": {
    "x": {"field": "nm", "type": "quantitative", "scale": {"domain": [371.4, 464.4], "range": [810, 1075], "nice": false, "zero": false}, "axis": null},
    "y": {"field": "v", "type": "quantitative", "scale": {"domain": [-0.042, 0.04186], "range": [179, -1.3], "nice": false, "zero": false},
      "axis": {"orient": "left", "offset": -810, "values": [0.04, -0.04], "labelExpr": "datum.value < 0 ? '-' + format(-datum.value, '.2f') : format(datum.value, '.2f')", "title": null, "domainColor": "#333", "domainWidth": 1.2, "tickColor": "#333", "tickWidth": 1.2, "tickSize": 5, "labelFontSize": 18, "labelPadding": 2}},
    "detail": {"field": "c", "type": "nominal"}}},
  {"data": {"values": [{}]}, "mark": {"type": "rule", "color": "#333", "strokeWidth": 1.2},
   "encoding": {"x": {"datum": 371.4}, "x2": {"datum": 464.4}, "y": {"datum": 0}}},
  {"data": {"name": "Clab"}, "transform": [{"filter": "datum.k == 'b'"}],
   "mark": {"type": "text", "fontSize": 19, "fontWeight": "bold", "align": "center", "baseline": "middle", "color": "#000", "clip": false},
   "encoding": {"x": {"field": "nm", "type": "quantitative"}, "y": {"field": "v", "type": "quantitative"}, "text": {"field": "t"}}},
  {"data": {"name": "Clab"}, "transform": [{"filter": "datum.k == 'n'"}],
   "mark": {"type": "text", "fontSize": 19, "fontWeight": "normal", "align": "center", "baseline": "middle", "color": "#000", "clip": false},
   "encoding": {"x": {"field": "nm", "type": "quantitative"}, "y": {"field": "v", "type": "quantitative"}, "text": {"field": "t"}}},
  {"data": {"name": "Clab"}, "transform": [{"filter": "datum.k == 'd'"}],
   "mark": {"type": "text", "fontSize": 20, "fontWeight": "bold", "align": "center", "baseline": "middle", "angle": 270, "color": "#000", "clip": false},
   "encoding": {"x": {"field": "nm", "type": "quantitative"}, "y": {"field": "v", "type": "quantitative"}, "text": {"field": "t"}}},
  {"data": {"name": "Clab"}, "transform": [{"filter": "datum.k == 'box'"}],
   "mark": {"type": "point", "shape": "square", "filled": true, "color": "#000", "opacity": 1, "size": 841, "clip": false},
   "encoding": {"x": {"field": "nm", "type": "quantitative"}, "y": {"field": "v", "type": "quantitative"}}},
  {"data": {"name": "Clab"}, "transform": [{"filter": "datum.k == 'box'"}],
   "mark": {"type": "text", "fontSize": 21, "fontWeight": "bold", "align": "center", "baseline": "middle", "color": "#fff", "clip": false},
   "encoding": {"x": {"field": "nm", "type": "quantitative"}, "y": {"field": "v", "type": "quantitative"}, "text": {"field": "t"}}}
 ]
},
{
 "layer": [
  {"data": {"name": "D"}, "mark": {"type": "line", "color": "#111", "strokeWidth": 1.1, "interpolate": "monotone", "clip": false},
   "encoding": {
    "x": {"field": "nm", "type": "quantitative", "scale": {"domain": [371.0, 462.6], "range": [483, 739], "nice": false, "zero": false}, "axis": null},
    "y": {"field": "v", "type": "quantitative", "scale": {"domain": [-0.00616, 0.00641], "range": [450.3, 298.7], "nice": false, "zero": false},
      "axis": {"orient": "left", "offset": -483, "values": [0.005, -0.005], "labelExpr": "datum.value < 0 ? '-' + format(-datum.value, '.3f') : format(datum.value, '.3f')", "title": null, "domainColor": "#333", "domainWidth": 1.2, "tickColor": "#333", "tickWidth": 1.2, "tickSize": 5, "labelFontSize": 18, "labelPadding": 2}},
    "detail": {"field": "c", "type": "nominal"}}},
  {"data": {"values": [{}]}, "mark": {"type": "rule", "color": "#333", "strokeWidth": 1.2},
   "encoding": {"x": {"datum": 371.0}, "x2": {"datum": 462.6}, "y": {"datum": 0}}},
  {"data": {"name": "Dlab"}, "transform": [{"filter": "datum.k == 'b'"}],
   "mark": {"type": "text", "fontSize": 19, "fontWeight": "bold", "align": "center", "baseline": "middle", "color": "#000", "clip": false},
   "encoding": {"x": {"field": "nm", "type": "quantitative"}, "y": {"field": "v", "type": "quantitative"}, "text": {"field": "t"}}},
  {"data": {"name": "Dlab"}, "transform": [{"filter": "datum.k == 'n'"}],
   "mark": {"type": "text", "fontSize": 19, "fontWeight": "normal", "align": "center", "baseline": "middle", "color": "#000", "clip": false},
   "encoding": {"x": {"field": "nm", "type": "quantitative"}, "y": {"field": "v", "type": "quantitative"}, "text": {"field": "t"}}},
  {"data": {"name": "Dlab"}, "transform": [{"filter": "datum.k == 'd'"}],
   "mark": {"type": "text", "fontSize": 20, "fontWeight": "bold", "align": "center", "baseline": "middle", "angle": 270, "color": "#000", "clip": false},
   "encoding": {"x": {"field": "nm", "type": "quantitative"}, "y": {"field": "v", "type": "quantitative"}, "text": {"field": "t"}}},
  {"data": {"name": "Dlab"}, "transform": [{"filter": "datum.k == 'box'"}],
   "mark": {"type": "point", "shape": "square", "filled": true, "color": "#000", "opacity": 1, "size": 841, "clip": false},
   "encoding": {"x": {"field": "nm", "type": "quantitative"}, "y": {"field": "v", "type": "quantitative"}}},
  {"data": {"name": "Dlab"}, "transform": [{"filter": "datum.k == 'box'"}],
   "mark": {"type": "text", "fontSize": 21, "fontWeight": "bold", "align": "center", "baseline": "middle", "color": "#fff", "clip": false},
   "encoding": {"x": {"field": "nm", "type": "quantitative"}, "y": {"field": "v", "type": "quantitative"}, "text": {"field": "t"}}}
 ]
},
{
 "layer": [
  {"data": {"name": "E"}, "mark": {"type": "line", "color": "#111", "strokeWidth": 1.1, "interpolate": "monotone", "clip": false},
   "encoding": {
    "x": {"field": "nm", "type": "quantitative", "scale": {"domain": [368.9, 465.4], "range": [810, 1075], "nice": false, "zero": false}, "axis": null},
    "y": {"field": "v", "type": "quantitative", "scale": {"domain": [-0.0062, 0.00626], "range": [448.7, 298], "nice": false, "zero": false},
      "axis": {"orient": "left", "offset": -810, "values": [0.005, -0.005], "labelExpr": "datum.value < 0 ? '-' + format(-datum.value, '.3f') : format(datum.value, '.3f')", "title": null, "domainColor": "#333", "domainWidth": 1.2, "tickColor": "#333", "tickWidth": 1.2, "tickSize": 5, "labelFontSize": 18, "labelPadding": 2}},
    "detail": {"field": "c", "type": "nominal"}}},
  {"data": {"values": [{}]}, "mark": {"type": "rule", "color": "#333", "strokeWidth": 1.2},
   "encoding": {"x": {"datum": 368.9}, "x2": {"datum": 465.4}, "y": {"datum": 0}}},
  {"data": {"name": "Elab"}, "transform": [{"filter": "datum.k == 'b'"}],
   "mark": {"type": "text", "fontSize": 19, "fontWeight": "bold", "align": "center", "baseline": "middle", "color": "#000", "clip": false},
   "encoding": {"x": {"field": "nm", "type": "quantitative"}, "y": {"field": "v", "type": "quantitative"}, "text": {"field": "t"}}},
  {"data": {"name": "Elab"}, "transform": [{"filter": "datum.k == 'n'"}],
   "mark": {"type": "text", "fontSize": 18, "fontWeight": "normal", "align": "center", "baseline": "middle", "color": "#000", "clip": false},
   "encoding": {"x": {"field": "nm", "type": "quantitative"}, "y": {"field": "v", "type": "quantitative"}, "text": {"field": "t"}}},
  {"data": {"name": "Elab"}, "transform": [{"filter": "datum.k == 'd'"}],
   "mark": {"type": "text", "fontSize": 20, "fontWeight": "bold", "align": "center", "baseline": "middle", "angle": 270, "color": "#000", "clip": false},
   "encoding": {"x": {"field": "nm", "type": "quantitative"}, "y": {"field": "v", "type": "quantitative"}, "text": {"field": "t"}}},
  {"data": {"name": "Elab"}, "transform": [{"filter": "datum.k == 'box'"}],
   "mark": {"type": "point", "shape": "square", "filled": true, "color": "#000", "opacity": 1, "size": 841, "clip": false},
   "encoding": {"x": {"field": "nm", "type": "quantitative"}, "y": {"field": "v", "type": "quantitative"}}},
  {"data": {"name": "Elab"}, "transform": [{"filter": "datum.k == 'box'"}],
   "mark": {"type": "text", "fontSize": 21, "fontWeight": "bold", "align": "center", "baseline": "middle", "color": "#fff", "clip": false},
   "encoding": {"x": {"field": "nm", "type": "quantitative"}, "y": {"field": "v", "type": "quantitative"}, "text": {"field": "t"}}}
 ]
}
]
}
